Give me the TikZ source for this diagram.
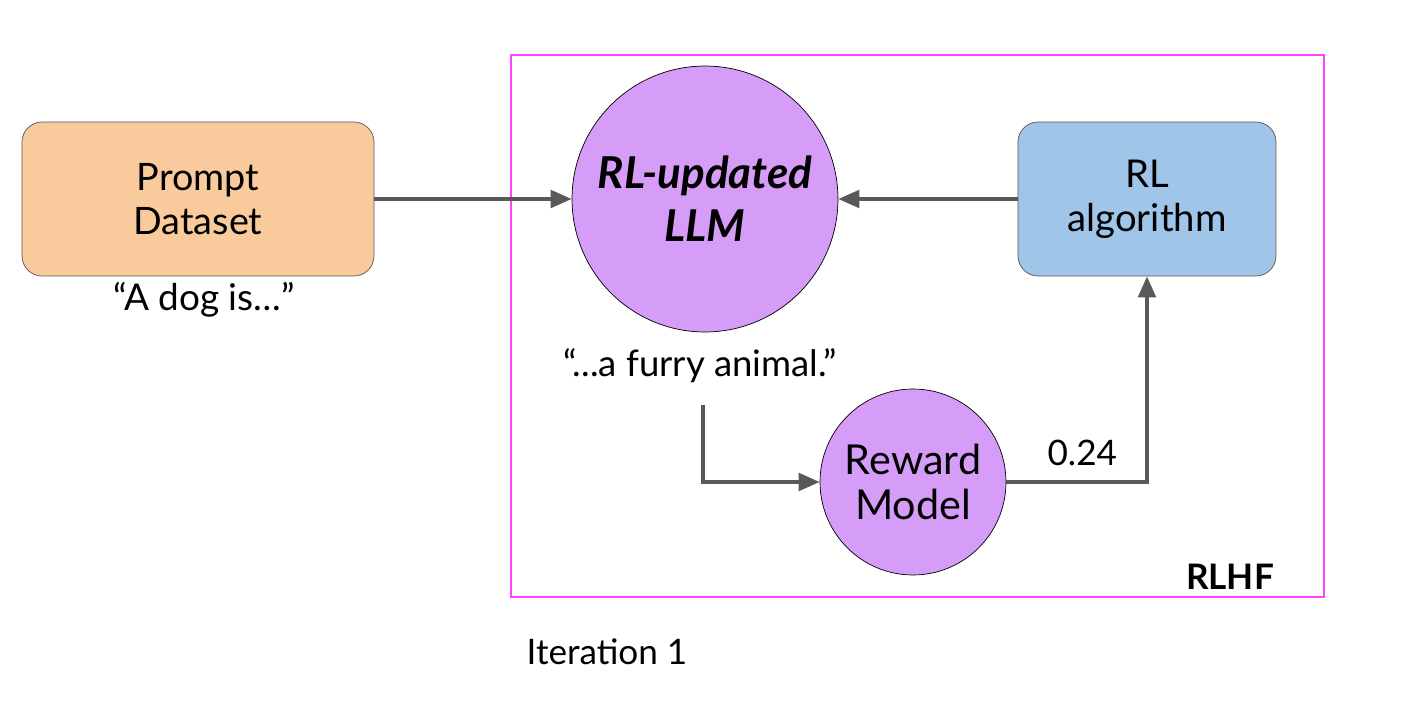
\documentclass[tikz,border=0pt]{standalone}
\usepackage{fontspec}
\setmainfont{Lato}
\usetikzlibrary{arrows.meta,positioning}
\definecolor{promptfill}{HTML}{F9CB9C}
\definecolor{rlfill}{HTML}{9FC5E8}
\definecolor{llmfill}{HTML}{D59CF8}
\definecolor{framepink}{HTML}{FF44FF}
\definecolor{flowgrey}{HTML}{595959}
\definecolor{boxline}{HTML}{555555}
\begin{document}
\begin{tikzpicture}[x=0.02cm,y=-0.02cm]
    \tikzstyle{every node}+=[font=\fontsize{20}{25}\selectfont]
    \tikzstyle{box}=[draw=boxline, rounded corners=0.4cm, align=center, minimum height=3.08cm, inner sep=0pt]
    \tikzstyle{blob}=[draw=black, circle, align=center, fill=llmfill, inner sep=0pt]
    \tikzstyle{flow}=[draw=flowgrey, line width=2.1pt, -{Triangle[length=12pt,width=10pt]}]
    \useasboundingbox (0,0) rectangle (1414,720);
    \node [draw=framepink, line width=1.2pt, minimum width=16.26cm, minimum height=10.84cm] (frame) at (917.5,326) {};
    \node [box, fill=promptfill, minimum width=7.04cm, font=\fontsize{21.5}{25}\selectfont] (prompt) at (198,199) {Prompt\\Dataset};
    \node [font=\fontsize{21}{25}\selectfont] (dog) at (204,300) {“A dog is…”};
    \node [blob, minimum size=5.32cm, font=\fontsize{25}{30}\selectfont\bfseries\itshape] (llm) at (705,199) {RL-updated\\LLM};
    \node [box, fill=rlfill, minimum width=5.16cm, font=\fontsize{21.8}{25}\selectfont] (rl) at (1147,199) {RL\\algorithm};
    \node [font=\fontsize{20.8}{25}\selectfont] (out) at (700,366) {“...a furry animal.”};
    \node [blob, minimum size=3.72cm, font=\fontsize{23.5}{26}\selectfont] (reward) at (913,482) {Reward\\Model};
    \node (rlhf) at (1230,577) {\bfseries RLHF};
    \node (iter) at (607,652) {Iteration 1};
    \coordinate (turn) at (703,405);
    \draw [flow] (prompt) -- (llm);
    \draw [flow] (rl) -- (llm);
    \draw [flow] (turn) |- (reward);
    \draw [flow] (reward) -| node [pos=0.27, above=5pt] {0.24} (rl);
\end{tikzpicture}
\end{document}
